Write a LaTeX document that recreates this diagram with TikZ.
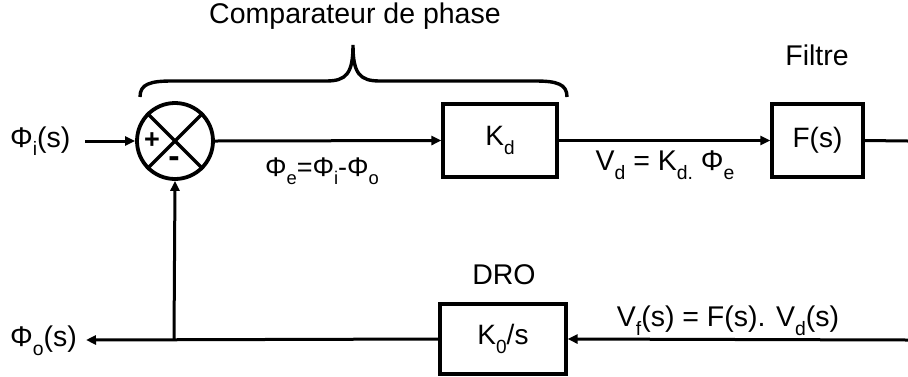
\documentclass[tikz,border=0pt]{standalone}
\usepackage{fontspec}
\setmainfont{Liberation Sans}
\usepackage{graphicx}
\usetikzlibrary{arrows.meta}
\newcommand\dsb[1]{\raisebox{-0.3em}{\scalebox{0.68}{#1}}}
\begin{document}
\begin{tikzpicture}[x=1pt,y=-1pt,
  lw/.style={line width=3pt},
  arr/.style={lw,-{Triangle[length=10pt,width=9pt]}},
  blk/.style={draw,line width=3.2pt,inner sep=0pt,font=\fontsize{28}{30}\selectfont},
  lbl/.style={inner sep=0pt,font=\fontsize{28.5}{31}\selectfont},
  slbl/.style={inner sep=0pt,font=\fontsize{27}{29}\selectfont}]
\useasboundingbox (0,0) rectangle (908,376);

% blocks
\node[draw,circle,line width=3.8pt,minimum size=76pt,inner sep=0pt] (sum) at (175,141) {};
\draw[line width=3.4pt] (sum.45) -- (sum.225) (sum.135) -- (sum.-45);
\node[inner sep=0pt,font=\fontsize{27}{28}\bfseries] (plus) at (152,141) {+};
\node[inner sep=0pt,font=\fontsize{34}{34}\bfseries] (minus) at (174,162) {-};

\node[blk,minimum width=114pt,minimum height=73pt] (kd) at (500,140.5) {K\dsb{d}};
\node[blk,minimum width=91pt,minimum height=73pt] (fs) at (817.5,140.5) {F(s)};
\node[blk,minimum width=126pt,minimum height=70pt] (k0) at (503,339) {K\dsb{0}/s};

% labels
\node[lbl,anchor=west] (phii) at (10,141) {Φ\dsb{i}(s)};
\node[lbl,anchor=west] (phio) at (10,341) {Φ\dsb{o}(s)};
\node[slbl] (phie) at (322,171) {Φ\dsb{e}=Φ\dsb{i}-Φ\dsb{o}};
\node[lbl] (vd) at (665,165) {V\dsb{d} = K\dsb{d.} Φ\dsb{e}};
\node[lbl] (vf) at (728,321) {V\dsb{f}(s) = F(s). V\dsb{d}(s)};
\node[lbl] (comp) at (355,16) {Comparateur de phase};
\node[lbl] (filt) at (817,55) {Filtre};
\node[lbl] (dro) at (504,275) {DRO};

% coordinates
\coordinate (outr) at (908,141);
\coordinate (inr) at (908,340);
\coordinate (jn) at (174,340);
\coordinate (outl) at (86,340);
\coordinate (inl) at (85,141);

% connectors
\draw[arr] (inl) -- (sum.west);
\draw[arr] (sum.east) -- (kd.west);
\draw[arr] (kd.east) -- (fs.west);
\draw[lw] (fs.east) -- (outr);
\draw[arr] (inr) -- (k0.east);
\draw[arr] (k0.west) -- (outl);
\draw[arr] (jn) -- (sum.south);

% brace
\draw[line width=3.4pt] (140,97) .. controls (140,84) and (150,81) .. (172,81)
  -- (326,81) .. controls (346,81) and (353,74) .. (353,45)
  .. controls (353,74) and (360,81) .. (380,81)
  -- (535,81) .. controls (557,81) and (567,84) .. (567,97);
\end{tikzpicture}
\end{document}
